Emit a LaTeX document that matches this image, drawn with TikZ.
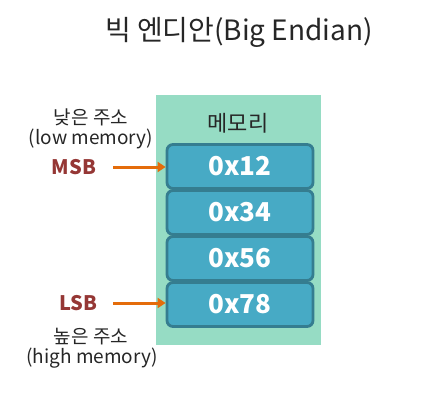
\documentclass[tikz,border=0pt]{standalone}
\usepackage{fontspec}
\setmainfont{Noto Sans CJK KR}
\newfontfamily\kr{Noto Sans CJK KR}
\usetikzlibrary{arrows.meta}
\definecolor{bgmint}{HTML}{96DCC4}
\definecolor{cellfill}{HTML}{47AAC5}
\definecolor{celledge}{HTML}{357D90}
\definecolor{arrowor}{HTML}{E46C0A}
\definecolor{sbred}{HTML}{953735}
\definecolor{txtgray}{HTML}{262626}
\tikzset{
  cell/.style={draw=celledge, line width=2.8pt, fill=cellfill, rounded corners=6pt,
    minimum width=146pt, minimum height=44pt, inner sep=0pt,
    text=white, font=\kr\bfseries\fontsize{26}{28}\selectfont},
  lbl/.style={text=txtgray, font=\kr\fontsize{19}{21}\selectfont, inner sep=0pt},
  sb/.style={text=sbred, font=\kr\bfseries\fontsize{20}{22}\selectfont, inner sep=0pt},
  ptr/.style={draw=arrowor, line width=3pt, -{Triangle[length=8pt,width=10pt]}}
}
\begin{document}
\begin{tikzpicture}[x=1pt,y=-1pt]
\useasboundingbox (0,0) rectangle (447,415);
\node[font=\kr\fontsize{28}{30}\selectfont, text=txtgray, inner sep=0pt] (title) at (239,32) {빅 엔디안(Big Endian)};
\fill[bgmint] (156,95) rectangle (321,345);
\node[lbl, font=\kr\fontsize{22}{24}\selectfont] (mem) at (238,123) {메모리};
\node[cell] (c1) at (240,166.5) {0x12};
\node[cell] (c2) at (240,212.5) {0x34};
\node[cell] (c3) at (240,258.5) {0x56};
\node[cell] (c4) at (240,304.5) {0x78};
\node[lbl] (low) at (91,117) {낮은 주소};
\node[lbl] (lowe) at (91,139) {(low memory)};
\node[sb] (msb) at (74,167) {MSB};
\node[sb] (lsb) at (78,303) {LSB};
\node[lbl] (high) at (91,337) {높은 주소};
\node[lbl] (highe) at (92,358) {(high memory)};
\coordinate (m0) at (113,167);
\coordinate (l0) at (113,303);
\draw[ptr] (m0) -- (m0 -| c1.west);
\draw[ptr] (l0) -- (l0 -| c4.west);
\end{tikzpicture}
\end{document}
